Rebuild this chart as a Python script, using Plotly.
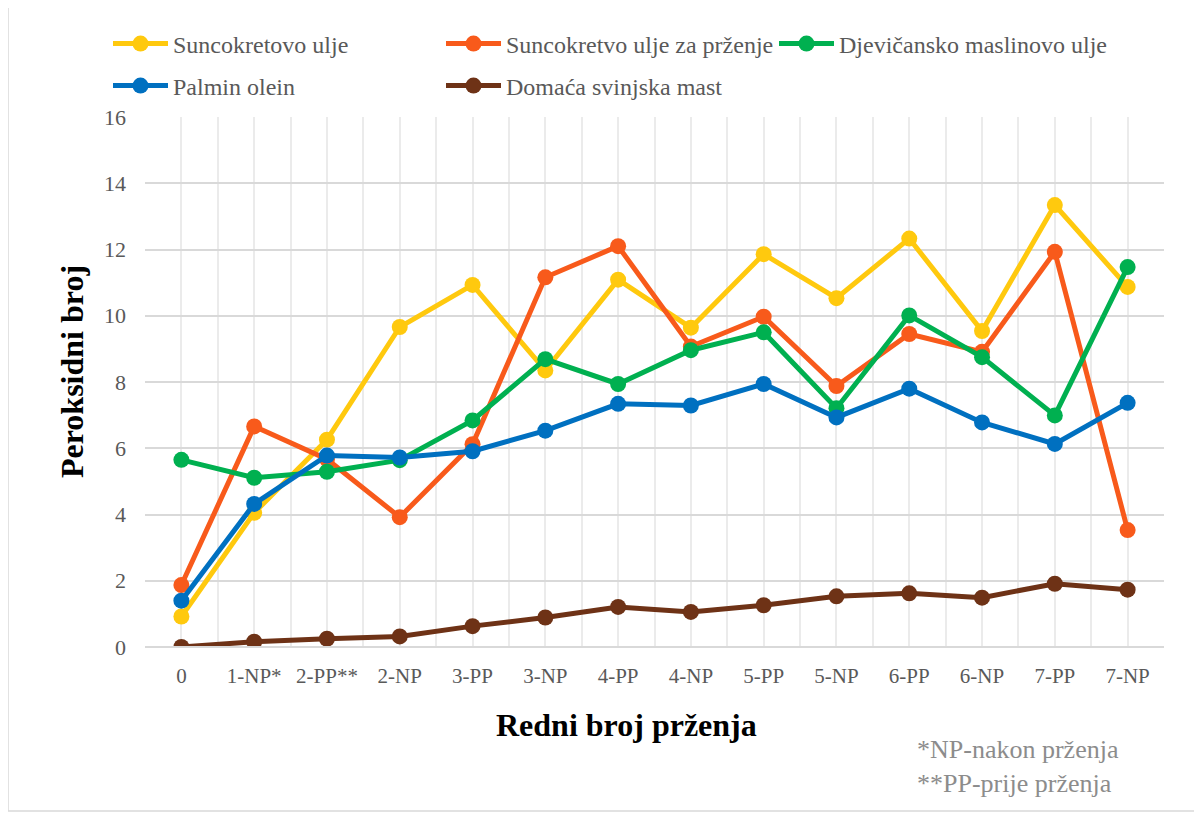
import plotly.graph_objects as go

categories = ['0', '1-NP*', '2-PP**', '2-NP', '3-PP', '3-NP', '4-PP',
              '4-NP', '5-PP', '5-NP', '6-PP', '6-NP', '7-PP', '7-NP']

suncokretovo = [0.92, 4.05, 6.26, 9.66, 10.93, 8.35, 11.09, 9.64, 11.86, 10.53, 12.33, 9.54, 13.34, 10.87]
suncokretovo_przenje = [1.87, 6.66, 5.67, 3.92, 6.12, 11.16, 12.10, 9.07, 9.97, 7.88, 9.45, 8.91, 11.93, 3.53]
maslinovo = [5.65, 5.11, 5.29, 5.64, 6.84, 8.69, 7.94, 8.96, 9.50, 7.21, 10.01, 8.75, 6.99, 11.47]
palmin = [1.40, 4.32, 5.78, 5.72, 5.91, 6.53, 7.34, 7.29, 7.94, 6.93, 7.80, 6.78, 6.13, 7.37]
mast = [0.0, 0.16, 0.25, 0.32, 0.63, 0.89, 1.21, 1.06, 1.26, 1.53, 1.62, 1.49, 1.91, 1.73]

y_ticks = [0, 2, 4, 6, 8, 10, 12, 14, 16]

# page has an 8px body margin, so the figure is drawn 8px smaller
OFF = 8
W, H = 1202 - OFF, 814 - OFF
L, T = 145 - OFF, 117 - OFF
pw, ph = 1019, 530
R, B = W - L - pw, H - T - ph

# helpers: reference screenshot pixel -> paper coords
def px_x(p):
    return (p - OFF - L) / pw

def px_y(p):
    return (T + ph - (p - OFF)) / ph

FONT = 'Liberation Serif, Times New Roman, serif'
x = list(range(len(categories)))

series = [
    ('Suncokretovo ulje', suncokretovo, '#FFC90E', 'legend'),
    ('Suncokretvo ulje za prženje', suncokretovo_przenje, '#F85A1B', 'legend'),
    ('Djevičansko maslinovo ulje', maslinovo, '#00B050', 'legend'),
    ('Palmin olein', palmin, '#0070C0', 'legend2'),
    ('Domaća svinjska mast', mast, '#6E3216', 'legend2'),
]

fig = go.Figure()
for name, vals, col, lg in series:
    fig.add_trace(go.Scatter(x=x, y=vals, name=name, mode='lines+markers',
                             line=dict(color=col, width=5),
                             marker=dict(color=col, size=16),
                             legend=lg))

legend_common = dict(orientation='h', xanchor='left', yanchor='middle',
                     font=dict(family=FONT, size=24, color='#595959'),
                     entrywidth=263, entrywidthmode='pixels',
                     bgcolor='rgba(0,0,0,0)', itemwidth=55)

fig.update_layout(
    width=W, height=H,
    margin=dict(l=L, r=R, t=T, b=B),
    paper_bgcolor='white', plot_bgcolor='white',
    font=dict(family=FONT, color='#595959'),
    legend=dict(x=px_x(108), y=px_y(44), **legend_common),
    legend2=dict(x=px_x(108), y=px_y(86), **legend_common),
    xaxis=dict(range=[-0.5, len(categories) - 0.5], tickvals=x, ticktext=categories,
               showgrid=True, gridcolor='#EBEBEB', gridwidth=1.5,
               minor=dict(dtick=0.5, tick0=-0.5, showgrid=True, gridcolor='#EBEBEB', gridwidth=1.5),
               tickfont=dict(family=FONT, size=21, color='#595959'),
               showline=False, zeroline=False, ticks='', ticklabelstandoff=14),
    yaxis=dict(range=[0, 16], tickvals=y_ticks, showgrid=True, gridcolor='#D9D9D9', gridwidth=2,
               tickfont=dict(family=FONT, size=22, color='#595959'),
               zeroline=False, ticks='', ticklabelstandoff=18),
    annotations=[
        dict(text='<b>Redni broj prženja</b>', x=px_x(626), y=px_y(745), xref='paper', yref='paper',
             showarrow=False, font=dict(family=FONT, size=32, color='black')),
        dict(text='<b>Peroksidni broj</b>', x=px_x(52), y=px_y(372), xref='paper', yref='paper',
             showarrow=False, textangle=-90, font=dict(family=FONT, size=32, color='black')),
        dict(text='*NP-nakon prženja<br>**PP-prije prženja', x=px_x(915), y=px_y(766),
             xref='paper', yref='paper', xanchor='left', yanchor='middle', align='left',
             showarrow=False, font=dict(family=FONT, size=26, color='#8C8C8C')),
    ],
    shapes=[
        dict(type='rect', xref='paper', yref='paper', x0=px_x(8), x1=px_x(1215), y0=px_y(811), y1=px_y(3),
             line=dict(color='#D9D9D9', width=1.5), layer='below'),
        dict(type='line', xref='paper', yref='paper', x0=0, x1=1, y0=0, y1=0,
             line=dict(color='#D9D9D9', width=2)),
    ],
)

fig.write_html('out.html')
